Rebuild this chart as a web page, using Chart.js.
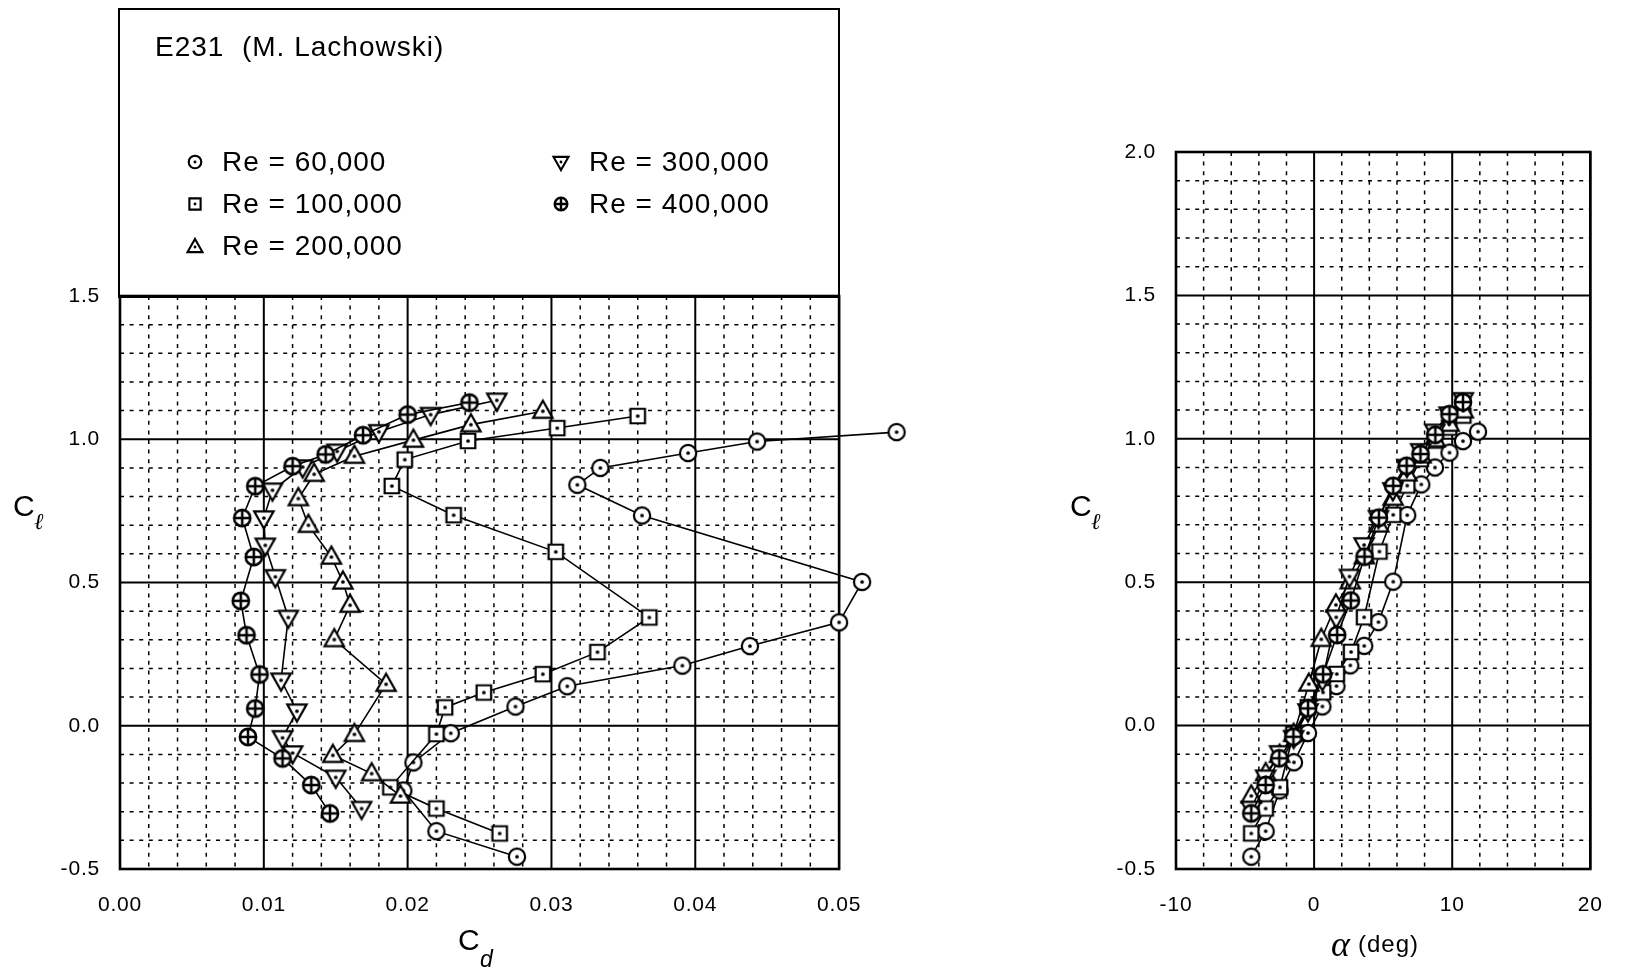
<!DOCTYPE html>
<html>
<head>
<meta charset="utf-8">
<script src="https://cdn.jsdelivr.net/npm/chart.js@4.4.0/dist/chart.umd.min.js"></script>
<style>
  body { margin: 0; background: #fff; width: 1626px; height: 975px; position: relative; overflow: hidden;
         font-family: "Liberation Sans", Arial, sans-serif; color: #000; }
  canvas { position: absolute; top: 0; }
  #polarCanvas { left: 0; }
  #liftCanvas { left: 1060px; }
  .txt { position: absolute; white-space: pre; letter-spacing: 1px; font-size: 28px; line-height: 28px; }
  #legendBox { position: absolute; left: 118px; top: 8px; width: 722px; height: 290px;
               border: 2.5px solid #000; box-sizing: border-box; }
  .sub { position: absolute; font-style: italic; font-size: 23px; line-height: 23px; }
</style>
</head>
<body>
<div id="legendBox"></div>
<canvas id="polarCanvas" width="960" height="975"></canvas>
<canvas id="liftCanvas" width="566" height="975"></canvas>

<div class="txt" style="left:155px;top:33px">E231  (M. Lachowski)</div>

<!-- axis titles -->
<div class="txt" style="left:13px;top:492px;font-size:30px">C</div>
<div class="sub" style="left:34px;top:510px;font-family:'DejaVu Serif',serif">ℓ</div>
<div class="txt" style="left:1070px;top:492px;font-size:30px">C</div>
<div class="sub" style="left:1091px;top:510px;font-family:'DejaVu Serif',serif">ℓ</div>
<div class="txt" style="left:458px;top:926px;font-size:30px">C</div>
<div class="sub" style="left:480px;top:948px">d</div>
<div class="txt" style="left:1331px;top:930px;font-family:'Liberation Serif',serif;font-size:36px;font-style:italic">α</div>
<div class="txt" style="left:1358px;top:930px;font-size:24px">(deg)</div>

<script>
// E231 (M. Lachowski) - drag polar and lift curve, five Reynolds numbers

const reLabels = ["Re = 60,000", "Re = 100,000", "Re = 200,000", "Re = 300,000", "Re = 400,000"];

// Re = 60,000
const alpha60k = [-4.55, -3.51, -2.50, -1.46, -0.44, 0.60, 1.62, 2.62, 3.63, 4.66, 5.73, 6.74, 7.76, 8.75, 9.80, 10.78, 11.87];
const cl60k    = [-0.457, -0.368, -0.226, -0.128, -0.026, 0.067, 0.138, 0.210, 0.278, 0.361, 0.502, 0.734, 0.841, 0.900, 0.952, 0.992, 1.025];
const cd60k    = [0.0276, 0.0220, 0.0197, 0.0204, 0.0230, 0.0275, 0.0311, 0.0391, 0.0438, 0.0500, 0.0516, 0.0363, 0.0318, 0.0334, 0.0395, 0.0443, 0.0540];

// Re = 100,000
const alpha100k = [-4.55, -3.51, -2.47, -1.50, -0.45, 0.65, 1.64, 2.68, 3.62, 4.73, 5.73, 6.74, 7.72, 8.74, 9.78, 10.80];
const cl100k    = [-0.376, -0.289, -0.215, -0.029, 0.064, 0.116, 0.180, 0.257, 0.378, 0.607, 0.735, 0.837, 0.929, 0.994, 1.039, 1.081];
const cd100k    = [0.0264, 0.0220, 0.0188, 0.0220, 0.0226, 0.0253, 0.0294, 0.0332, 0.0368, 0.0303, 0.0232, 0.0189, 0.0198, 0.0242, 0.0304, 0.0360];

// Re = 200,000
const alpha200k = [-4.55, -3.51, -2.50, -1.48, -0.38, 0.52, 1.58, 2.62, 3.64, 4.68, 5.72, 6.72, 7.74, 8.76, 9.78, 10.80];
const cl200k    = [-0.245, -0.167, -0.103, -0.030, 0.145, 0.301, 0.421, 0.502, 0.589, 0.700, 0.793, 0.878, 0.941, 0.997, 1.051, 1.098];
const cd200k    = [0.0195, 0.0175, 0.0148, 0.0163, 0.0185, 0.0149, 0.0160, 0.0155, 0.0147, 0.0131, 0.0124, 0.0135, 0.0163, 0.0204, 0.0244, 0.0294];

// Re = 300,000
const alpha300k = [-4.55, -3.51, -2.50, -1.48, -0.44, 0.60, 1.60, 2.56, 3.62, 4.66, 5.70, 6.72, 7.72, 8.74, 9.78, 10.80];
const cl300k    = [-0.289, -0.180, -0.095, -0.042, 0.051, 0.159, 0.378, 0.520, 0.630, 0.725, 0.822, 0.903, 0.958, 1.026, 1.086, 1.136];
const cd300k    = [0.0168, 0.0150, 0.0120, 0.0113, 0.0123, 0.0112, 0.0117, 0.0108, 0.0101, 0.0100, 0.0106, 0.0127, 0.0151, 0.0180, 0.0216, 0.0262];

// Re = 400,000
const alpha400k = [-4.55, -3.51, -2.52, -1.50, -0.44, 0.65, 1.67, 2.66, 3.65, 4.69, 5.73, 6.70, 7.70, 8.78, 9.80, 10.78];
const cl400k    = [-0.306, -0.207, -0.114, -0.039, 0.060, 0.179, 0.316, 0.436, 0.589, 0.725, 0.836, 0.906, 0.947, 1.014, 1.086, 1.128];
const cd400k    = [0.0146, 0.0133, 0.0113, 0.0089, 0.0094, 0.0097, 0.0088, 0.0084, 0.0093, 0.0085, 0.0094, 0.0120, 0.0143, 0.0169, 0.0200, 0.0243];

// tick labels
const cdTicks    = [0.00, 0.01, 0.02, 0.03, 0.04, 0.05];
const clTicks    = [-0.5, 0.0, 0.5, 1.0, 1.5];
const clTicksR   = [-0.5, 0.0, 0.5, 1.0, 1.5, 2.0];
const alphaTicks = [-10, 0, 10, 20];

// marker shapes, white filled so they hide the lines behind
function makeMarker(kind, s, lw) {
  const size = Math.ceil(24 * s / 2) * 2;
  const c = document.createElement("canvas");
  c.width = c.height = size;
  const g = c.getContext("2d");
  g.translate(size / 2, size / 2);
  g.scale(s, s);
  g.lineWidth = (kind === "cross" ? 2.3 : 2) * lw;
  g.strokeStyle = "#000";
  g.fillStyle = "#fff";
  g.beginPath();
  if (kind === "circle" || kind === "cross") g.arc(0, 0, 7.4, 0, Math.PI * 2);
  else if (kind === "square") g.rect(-6.6, -6.6, 13.2, 13.2);
  else if (kind === "up") { g.moveTo(0, -9.5); g.lineTo(8.8, 6); g.lineTo(-8.8, 6); g.closePath(); }
  else if (kind === "down") { g.moveTo(0, 9.5); g.lineTo(8.8, -6); g.lineTo(-8.8, -6); g.closePath(); }
  g.fill();
  g.stroke();
  if (kind === "cross") {
    g.beginPath();
    g.moveTo(-7.4, 0); g.lineTo(7.4, 0);
    g.moveTo(0, -7.4); g.lineTo(0, 7.4);
    g.stroke();
  } else {
    g.fillStyle = "#000";
    g.beginPath();
    g.arc(0, 0, 1.7, 0, Math.PI * 2);
    g.fill();
  }
  return c;
}

const kinds = ["circle", "square", "up", "down", "cross"];
const markers = kinds.map(k => makeMarker(k, 1.1, 1));

// legend inside the box above the polar
const legendPos = [[195, 162, 222, 148], [195, 204, 222, 190], [195, 247, 222, 232], [561, 162, 589, 148], [561, 204, 589, 190]];
kinds.forEach((k, i) => {
  const m = makeMarker(k, 0.85, 1.25);
  m.style.position = "absolute";
  m.style.left = (legendPos[i][0] - m.width / 2) + "px";
  m.style.top = (legendPos[i][1] - m.height / 2) + "px";
  document.body.appendChild(m);
  const t = document.createElement("div");
  t.className = "txt";
  t.style.left = legendPos[i][2] + "px";
  t.style.top = legendPos[i][3] + "px";
  t.textContent = reLabels[i];
  document.body.appendChild(t);
});

function pairs(xs, ys) {
  return xs.map((v, i) => ({ x: v, y: ys[i] }));
}

function series(label, data, marker) {
  return {
    label: label,
    data: data,
    borderColor: "#000",
    borderWidth: 1.6,
    pointStyle: marker,
    pointRadius: 9,
    tension: 0,
    fill: false,
    clip: false
  };
}

// paper style grid: dashed minor lines, solid major lines, heavy frame
const paperGrid = {
  id: "paperGrid",
  beforeDraw(chart) {
    chart.ctx.letterSpacing = "0.8px";
  },
  beforeDatasetsDraw(chart, args, o) {
    const { ctx, chartArea: a, scales: { x, y } } = chart;
    const left = x.getPixelForValue(o.xLo), right = x.getPixelForValue(o.xHi);
    const top = y.getPixelForValue(o.yHi), bottom = y.getPixelForValue(o.yLo);
    ctx.save();
    ctx.strokeStyle = "#000";
    const vline = v => { const p = x.getPixelForValue(v); ctx.moveTo(p, top); ctx.lineTo(p, bottom); };
    const hline = v => { const p = y.getPixelForValue(v); ctx.moveTo(left, p); ctx.lineTo(right, p); };
    const near = (v, step) => Math.abs(v / step - Math.round(v / step)) < 1e-6;

    ctx.lineWidth = 1.5;
    ctx.setLineDash([4, 5.6]);
    ctx.beginPath();
    for (let v = o.xLo; v <= o.xHi + 1e-9; v += o.xMinor) if (!near(v, o.xMajor)) vline(v);
    for (let v = o.yLo; v <= o.yHi + 1e-9; v += o.yMinor) if (!near(v, o.yMajor)) hline(v);
    ctx.stroke();

    ctx.setLineDash([]);
    ctx.lineWidth = 2;
    ctx.beginPath();
    for (let v = o.xLo; v <= o.xHi + 1e-9; v += o.xMajor) vline(v);
    for (let v = o.yLo; v <= o.yHi + 1e-9; v += o.yMajor) hline(v);
    ctx.stroke();

    ctx.lineWidth = 2.6;
    ctx.strokeRect(left, top, right - left, bottom - top);
    ctx.restore();
  }
};

const tickFont = { family: "'Liberation Sans', Arial, sans-serif", size: 21 };

function axis(min, max, ticks, digits, padding, fit) {
  return {
    type: "linear",
    min: min,
    max: max,
    grid: { display: false, drawTicks: false },
    border: { display: false },
    afterBuildTicks: s => { s.ticks = ticks.map(v => ({ value: v })); },
    afterFit: fit,
    ticks: {
      color: "#000",
      font: tickFont,
      padding: padding,
      maxRotation: 0,
      autoSkip: false,
      callback: v => Number(v).toFixed(digits)
    }
  };
}

Chart.defaults.animation = false;

// the polar x scale runs a little past 0.05 so the off-frame 60k points still get drawn
new Chart(document.getElementById("polarCanvas"), {
  type: "line",
  data: {
    datasets: [
      series(reLabels[4], pairs(cd400k, cl400k), markers[4]),
      series(reLabels[3], pairs(cd300k, cl300k), markers[3]),
      series(reLabels[2], pairs(cd200k, cl200k), markers[2]),
      series(reLabels[1], pairs(cd100k, cl100k), markers[1]),
      series(reLabels[0], pairs(cd60k, cl60k), markers[0])
    ]
  },
  options: {
    responsive: false,
    devicePixelRatio: 1,
    events: [],
    layout: { padding: { top: 296, right: 49, left: 0, bottom: 0 } },
    plugins: {
      legend: { display: false },
      tooltip: { enabled: false },
      paperGrid: { xLo: 0, xHi: 0.05, xMinor: 0.002, xMajor: 0.01, yLo: -0.5, yHi: 1.5, yMinor: 0.1, yMajor: 0.5 }
    },
    scales: {
      x: axis(0, 0.055, cdTicks, 2, 24, s => { s.height = 106; }),
      y: axis(-0.5, 1.5, clTicks, 1, 20, s => { s.width = 120; })
    }
  },
  plugins: [paperGrid]
});

new Chart(document.getElementById("liftCanvas"), {
  type: "line",
  data: {
    datasets: [
      series(reLabels[4], pairs(alpha400k, cl400k), markers[4]),
      series(reLabels[3], pairs(alpha300k, cl300k), markers[3]),
      series(reLabels[2], pairs(alpha200k, cl200k), markers[2]),
      series(reLabels[1], pairs(alpha100k, cl100k), markers[1]),
      series(reLabels[0], pairs(alpha60k, cl60k), markers[0])
    ]
  },
  options: {
    responsive: false,
    devicePixelRatio: 1,
    events: [],
    layout: { padding: { top: 152, right: 18, left: 0, bottom: 0 } },
    plugins: {
      legend: { display: false },
      tooltip: { enabled: false },
      paperGrid: { xLo: -10, xHi: 20, xMinor: 2, xMajor: 10, yLo: -0.5, yHi: 2.0, yMinor: 0.1, yMajor: 0.5 }
    },
    scales: {
      x: axis(-10, 20, alphaTicks, 0, 24, s => { s.height = 106; }),
      y: axis(-0.5, 2.0, clTicksR, 1, 20, s => { s.width = 116; })
    }
  },
  plugins: [paperGrid]
});
</script>
</body>
</html>
